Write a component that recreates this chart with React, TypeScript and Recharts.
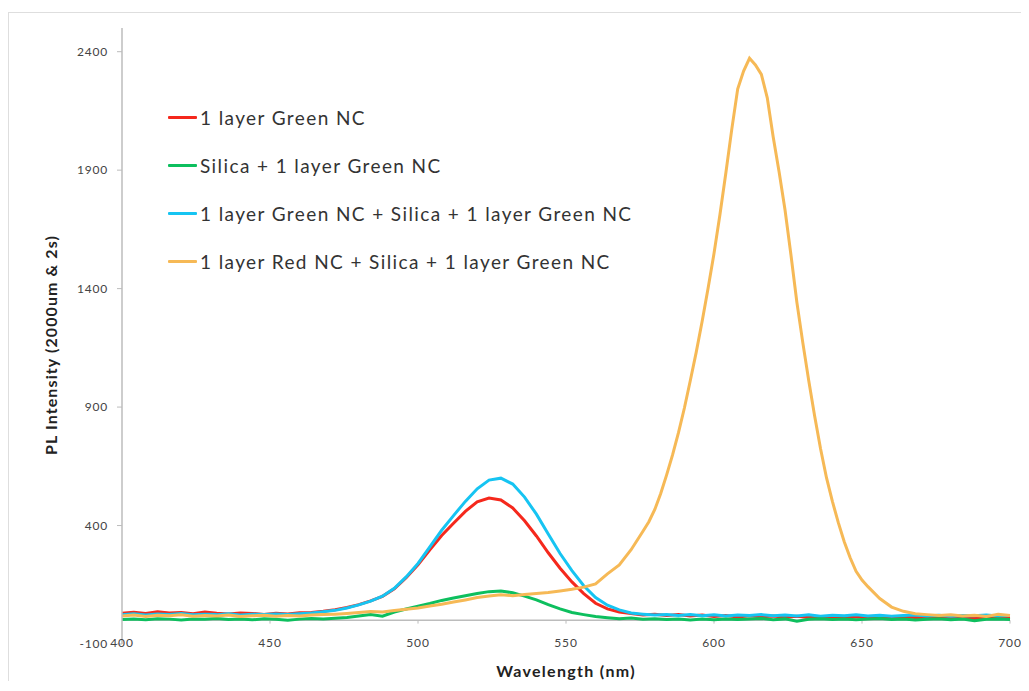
import React from 'react';
import { LineChart, Line, XAxis, YAxis, ReferenceLine, Label } from 'recharts';

// wavelength in nm, 4 nm steps
const wavelengths = [
  400, 404, 408, 412, 416, 420, 424, 428, 432, 436, 440, 444, 448, 452, 456, 460, 464, 468, 472, 476,
  480, 484, 488, 492, 496, 500, 504, 508, 512, 516, 520, 524, 528, 532, 536, 540, 544, 548, 552, 556,
  560, 564, 568, 572, 576, 580, 584, 588, 592, 596, 600, 604, 608, 612, 616, 620, 624, 628, 632, 636,
  640, 644, 648, 652, 656, 660, 664, 668, 672, 676, 680, 684, 688, 692, 696, 700,
];

const redGreen = [
  30, 34, 29, 36, 31, 33, 28, 35, 30, 27, 31, 29, 25, 30, 27, 32, 33, 38, 45, 54,
  66, 82, 101, 133, 180, 234, 298, 358, 410, 460, 500, 516, 508, 474, 420, 356, 285, 220, 162, 113,
  72, 48, 35, 29, 22, 26, 20, 24, 18, 22, 16, 20, 14, 19, 15, 18, 13, 17, 12, 16,
  14, 11, 15, 12, 16, 10, 14, 12, 9, 13, 10, 14, 8, 12, 10, 8,
];

const silicaGreen = [
  3, 6, 2, 7, 5, 1, 6, 4, 8, 3, 6, 2, 7, 4, 0, 5, 8, 6, 9, 12,
  18, 24, 17, 35, 48, 60, 71, 84, 94, 104, 113, 121, 124, 116, 102, 86, 66, 48, 33, 24,
  16, 11, 7, 10, 4, 7, 3, 6, 1, 5, 2, 6, 3, 5, 8, 2, 6, -4, 4, 7,
  3, 6, 2, 5, 8, 3, 6, 1, 4, 7, 2, 5, -2, 4, 6, 3,
];

const greenSilicaGreen = [
  24, 28, 22, 27, 25, 29, 23, 26, 24, 28, 22, 26, 24, 27, 25, 28, 31, 36, 42, 52,
  65, 81, 102, 135, 183, 240, 310, 380, 442, 502, 555, 592, 600, 575, 520, 448, 364, 282, 210, 146,
  96, 64, 44, 31, 26, 22, 25, 20, 24, 19, 23, 18, 22, 20, 24, 19, 22, 18, 23, 17,
  21, 19, 23, 18, 21, 17, 20, 22, 18, 21, 17, 20, 19, 22, 18, 20,
];

// the red-NC sample is sampled finer (2 nm) through its emission peak
const redSilicaNm = [
  400, 404, 408, 412, 416, 420, 424, 428, 432, 436, 440, 444, 448, 452, 456, 460, 464, 468, 472, 476,
  480, 484, 488, 492, 496, 500, 504, 508, 512, 516, 520, 524, 528, 532, 536, 540, 544, 548, 552, 556,
  560, 564, 568, 572, 576, 578, 580, 582, 584, 586, 588, 590, 592, 594, 596, 598, 600, 602, 604, 606,
  608, 610, 612, 614, 616, 618, 620, 622, 624, 626, 628, 630, 632, 634, 636, 638, 640, 642, 644, 646,
  648, 650, 652, 656, 660, 664, 668, 672, 676, 680, 684, 688, 692, 696, 700,
];

const redSilicaGreen = [
  18, 22, 16, 21, 19, 23, 17, 20, 18, 22, 16, 19, 21, 17, 20, 18, 22, 24, 26, 29,
  33, 37, 35, 41, 47, 52, 60, 68, 77, 86, 96, 103, 108, 104, 109, 113, 117, 124, 131, 140,
  154, 196, 234, 298, 376, 416, 468, 535, 614, 698, 792, 896, 1012, 1132, 1262, 1402, 1548, 1712, 1888, 2072,
  2242, 2318, 2372, 2344, 2304, 2205, 2040, 1892, 1732, 1542, 1342, 1172, 1012, 862, 724, 602, 502, 412, 332, 264,
  207, 170, 142, 92, 56, 38, 28, 24, 20, 23, 18, 21, 16, 25, 20,
];

const xTicks = [400, 450, 500, 550, 600, 650, 700];
const yTicks = [-100, 400, 900, 1400, 1900, 2400];

const greenRows = wavelengths.map((nm, i) => ({
  nm,
  red: redGreen[i],
  green: silicaGreen[i],
  blue: greenSilicaGreen[i],
}));
const redRows = redSilicaNm.map((nm, i) => ({ nm, orange: redSilicaGreen[i] }));

const series = [
  { key: 'red', name: '1 layer Green NC', color: '#f5281c', rows: greenRows },
  { key: 'blue', name: '1 layer Green NC + Silica + 1 layer Green NC', color: '#16c4f2', rows: greenRows },
  { key: 'green', name: 'Silica + 1 layer Green NC', color: '#0dbf5e', rows: greenRows },
  { key: 'orange', name: '1 layer Red NC + Silica + 1 layer Green NC', color: '#f6b956', rows: redRows },
];

// legend order as in the original figure
const legendOrder = ['red', 'green', 'blue', 'orange'];

const FONT = 'Lato, "DejaVu Sans", sans-serif';

function YTitle(props: any) {
  const { x, y, height } = props.viewBox;
  const cx = x + 41;
  const cy = y + height / 2 + 9;
  return (
    <text
      x={cx}
      y={cy}
      transform={`rotate(-90, ${cx}, ${cy})`}
      textAnchor="middle"
      dominantBaseline="central"
      fontFamily={FONT}
      fontWeight="bold"
      fontSize={16}
      letterSpacing={1.1}
      fill="#222"
    >
      {'PL Intensity (2000um & 2s)'}
    </text>
  );
}

export default function App() {
  return (
    <div
      style={{
        position: 'relative',
        marginTop: 4,
        width: 1020,
        height: 668,
        borderTop: '1px solid #dedede',
        borderLeft: '1px solid #dedede',
        fontFamily: FONT,
      }}
    >
      <LineChart width={1019} height={667} margin={{ top: 15, right: 18, bottom: 1, left: 0 }}>
        <XAxis
          dataKey="nm"
          type="number"
          domain={[400, 700]}
          ticks={xTicks}
          allowDuplicatedCategory={false}
          axisLine={false}
          tickLine={false}
          tickSize={0}
          tickMargin={-6}
          height={35}
          tick={{ fill: '#444', fontSize: 12, fontFamily: FONT, letterSpacing: 0.8 }}
        >
          <Label
            value="Wavelength (nm)"
            position="insideBottom"
            offset={2}
            style={{ fontWeight: 'bold', fontSize: 16, fill: '#222', fontFamily: FONT, letterSpacing: 1.3 }}
          />
        </XAxis>
        <YAxis
          type="number"
          domain={[-100, 2500]}
          ticks={yTicks}
          width={113}
          axisLine={{ stroke: '#bcbcbc', strokeWidth: 1.5 }}
          tickLine={{ stroke: '#bcbcbc' }}
          tickSize={5}
          tickMargin={9}
          tick={{ fill: '#444', fontSize: 12, fontFamily: FONT, letterSpacing: 0.8 }}
        >
          <Label content={YTitle} />
        </YAxis>
        <ReferenceLine y={0} stroke="#bcbcbc" strokeWidth={1.5} />
        {xTicks.slice(1).map((t) => (
          <ReferenceLine
            key={t}
            segment={[{ x: t, y: 0 }, { x: t, y: -14 }]}
            stroke="#bcbcbc"
          />
        ))}
        {series.map((s) => (
          <Line
            key={s.key}
            data={s.rows}
            dataKey={s.key}
            name={s.name}
            stroke={s.color}
            strokeWidth={3}
            dot={false}
            activeDot={false}
            type="linear"
            isAnimationActive={false}
          />
        ))}
      </LineChart>

      <div style={{ position: 'absolute', left: 159, top: 80 }}>
        {legendOrder.map((k) => {
          const s = series.find((x) => x.key === k)!;
          return (
            <div key={k} style={{ display: 'flex', alignItems: 'center', height: 48 }}>
              <div style={{ width: 29, height: 3, background: s.color, marginRight: 3, borderRadius: 1 }} />
              <span style={{ fontSize: 19, color: '#333', whiteSpace: 'nowrap', letterSpacing: 1.4 }}>{s.name}</span>
            </div>
          );
        })}
      </div>
    </div>
  );
}
